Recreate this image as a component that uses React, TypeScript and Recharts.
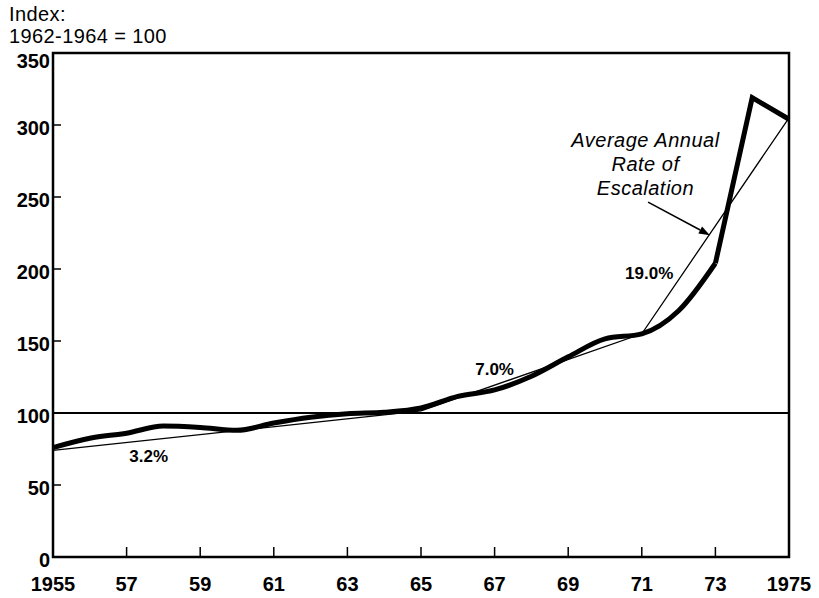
import {
  LineChart,
  Line,
  XAxis,
  YAxis,
  ReferenceLine,
  ReferenceArea,
  ReferenceDot,
} from "recharts";

const YEARS = [1955, 1956, 1957, 1958, 1959, 1960, 1961, 1962, 1963, 1964, 1965, 1966, 1967, 1968, 1969, 1970, 1971, 1972, 1973, 1974, 1975];
// cost index, 1962-1964 = 100
const PRICE_INDEX = [76, 82.5, 86, 91, 90, 88, 93, 97, 99.5, 100.5, 103.5, 111.5, 116, 125.5, 139, 151.5, 155, 171, 204, 319, 304];
// average annual rate of escalation (straight segments between break years)
const TREND = [74, null, null, null, null, null, null, null, null, null, 101.5, null, null, null, null, null, 155, null, null, null, 305];
const SHARP_FROM = 1973; // last years drawn as straight segments

const X_TICKS = [1955, 1957, 1959, 1961, 1963, 1965, 1967, 1969, 1971, 1973, 1975];
const Y_TICKS = [0, 50, 100, 150, 200, 250, 300, 350];

const RATE_LABELS = ["3.2%", "7.0%", "19.0%"];
const RATE_X = [1957.6, 1967.0, 1971.2];
const RATE_Y = [70, 130.5, 197.5];

const NOTE_LINES = ["Average Annual", "Rate of", "Escalation"];
const NOTE_AT = { x: 1971.1, y: 290 };
const ARROW = [{ x: 1971.17, y: 246.5 }, { x: 1972.85, y: 223.5 }];

const FONT = '"Liberation Sans", Arial, Helvetica, sans-serif';
const X_MARGIN = 20;
const Y_MARGIN = 3;

const data = YEARS.map((year, i) => ({
  year,
  smooth: year <= SHARP_FROM ? PRICE_INDEX[i] : null,
  sharp: year >= SHARP_FROM ? PRICE_INDEX[i] : null,
  trend: TREND[i],
}));

const XTick = ({ x, y, payload }: any) => {
  const v = payload.value;
  const edge = v === 1955 || v === 1975;
  const axisY = y - X_MARGIN;
  return (
    <g>
      {!edge && <line x1={x} x2={x} y1={axisY} y2={axisY - 10} stroke="#000" strokeWidth={1.5} />}
      <text x={x} y={y} dy="0.71em" textAnchor="middle" fontFamily={FONT} fontWeight={700} fontSize={20} fill="#000">
        {edge ? v : String(v).slice(2)}
      </text>
    </g>
  );
};

const YTick = ({ x, y, payload }: any) => {
  const v = payload.value;
  const axisX = x + Y_MARGIN;
  const edge = v === 0 || v === 350;
  return (
    <g>
      {!edge && <line x1={axisX} x2={axisX + 8} y1={y} y2={y} stroke="#000" strokeWidth={1.5} />}
      <text x={x} y={v === 350 ? y + 5 : y} dy="0.5em" textAnchor="end" fontFamily={FONT} fontWeight={700} fontSize={20} fill="#000">
        {v}
      </text>
    </g>
  );
};

const Arrow = ({ x1, y1, x2, y2 }: any) => {
  const a = Math.atan2(y2 - y1, x2 - x1);
  const len = 11;
  const w = 4;
  const bx = x2 - len * Math.cos(a);
  const by = y2 - len * Math.sin(a);
  const px = -Math.sin(a) * w;
  const py = Math.cos(a) * w;
  return (
    <g>
      <line x1={x1} y1={y1} x2={bx} y2={by} stroke="#000" strokeWidth={1.5} />
      <polygon points={`${x2},${y2} ${bx + px},${by + py} ${bx - px},${by - py}`} fill="#000" />
    </g>
  );
};

export default function App() {
  return (
    <div style={{ position: "absolute", left: 0, top: 0, width: 819, height: 598, background: "#fff" }}>
      <div style={{ position: "absolute", left: 9, top: 3, fontFamily: FONT, fontSize: 20, lineHeight: "22px", color: "#000", letterSpacing: 0.4 }}>
        <div>Index:</div>
        <div>1962-1964 = 100</div>
      </div>
      <LineChart width={819} height={598} data={data} margin={{ top: 53, right: 30, bottom: 0, left: 0 }}>
        <XAxis
          dataKey="year"
          type="number"
          domain={[1955, 1975]}
          ticks={X_TICKS}
          height={41}
          axisLine={false}
          tickLine={false}
          tickSize={0}
          tickMargin={X_MARGIN}
          tick={<XTick />}
          interval={0}
        />
        <YAxis
          type="number"
          domain={[0, 350]}
          ticks={Y_TICKS}
          width={53}
          axisLine={false}
          tickLine={false}
          tickSize={0}
          tickMargin={Y_MARGIN}
          tick={<YTick />}
          interval={0}
        />
        <ReferenceArea x1={1955} x2={1975} y1={0} y2={350} fill="none" stroke="#000" strokeWidth={2.5} />
        <ReferenceLine y={100} stroke="#000" strokeWidth={1.8} />
        <Line dataKey="trend" type="linear" stroke="#000" strokeWidth={1.3} dot={false} connectNulls isAnimationActive={false} />
        <Line dataKey="smooth" type="monotone" stroke="#000" strokeWidth={5} dot={false} isAnimationActive={false} />
        <Line dataKey="sharp" type="linear" stroke="#000" strokeWidth={5} dot={false} isAnimationActive={false} />
        <ReferenceLine segment={ARROW} shape={<Arrow />} />
        {RATE_LABELS.map((t, i) => (
          <ReferenceDot
            key={t}
            x={RATE_X[i]}
            y={RATE_Y[i]}
            r={1}
            shape={(p: any) => (
              <text x={p.cx} y={p.cy} dy="0.36em" textAnchor="middle" fontFamily={FONT} fontWeight={700} fontSize={17} fill="#000">
                {t}
              </text>
            )}
          />
        ))}
        <ReferenceDot
          x={NOTE_AT.x}
          y={NOTE_AT.y}
          r={1}
          shape={(p: any) => (
            <text x={p.cx} y={p.cy} textAnchor="middle" fontFamily={FONT} fontStyle="italic" fontSize={20} letterSpacing={0.5} fill="#000">
              {NOTE_LINES.map((l, i) => (
                <tspan key={l} x={p.cx} dy={i === 0 ? "0.36em" : 24}>
                  {l}
                </tspan>
              ))}
            </text>
          )}
        />
      </LineChart>
    </div>
  );
}
